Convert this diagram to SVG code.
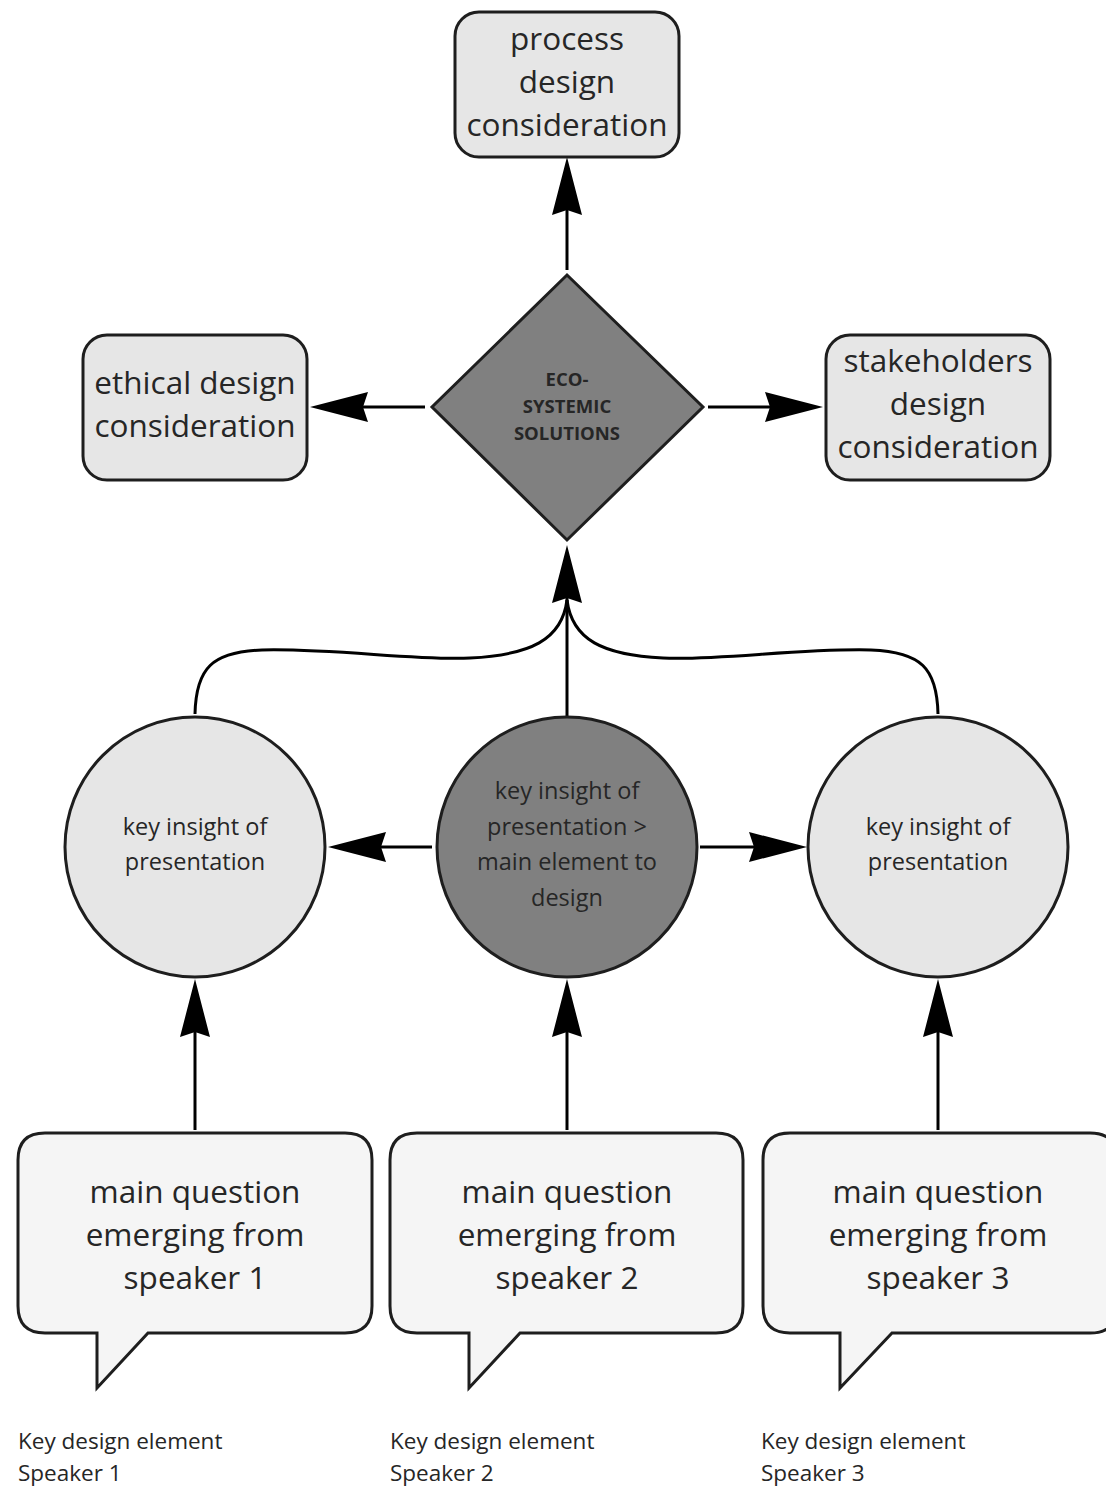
<svg xmlns="http://www.w3.org/2000/svg" width="1106" height="1488" viewBox="0 0 1106 1488">
<style>
.box{fill:#e6e6e6;stroke:#1e1e1e;stroke-width:3}
.dark{fill:#808080;stroke:#1e1e1e;stroke-width:3}
.bub{fill:#f5f5f5;stroke:#1e1e1e;stroke-width:3;stroke-linejoin:miter}
.t{font-family:"Open Sans","Noto Sans",sans-serif;fill:#262626;text-anchor:middle}
.big{font-size:31.5px}
.mid{font-size:23.5px}
.dia{font-size:18.5px;font-weight:bold}
.lab{font-family:"Open Sans","Noto Sans",sans-serif;fill:#262626;font-size:22.5px}
.c{fill:none;stroke:#000;stroke-width:3}
</style>
<defs>
<marker id="ah" markerUnits="userSpaceOnUse" markerWidth="62" markerHeight="34" refX="5" refY="16" orient="auto" overflow="visible">
<path d="M0,1 L58,16 L0,31 L5,16 Z" fill="#000"/>
</marker>
</defs>
<g id="connectors">
<line class="c" x1="567" y1="270" x2="567" y2="210" marker-end="url(#ah)"/>
<line class="c" x1="425" y1="407" x2="363" y2="407" marker-end="url(#ah)"/>
<line class="c" x1="708" y1="407" x2="770" y2="407" marker-end="url(#ah)"/>
<line class="c" x1="567" y1="716" x2="567" y2="598" marker-end="url(#ah)"/>
<path class="c" d="M195,714 C196,668 212,652 262,650 C330,648 420,661 470,658 C530,655 562,640 567,600"/>
<path class="c" d="M938,714 C937,668 921,652 871,650 C803,648 713,661 663,658 C603,655 572,640 567,600"/>
<line class="c" x1="432" y1="847" x2="381" y2="847" marker-end="url(#ah)"/>
<line class="c" x1="700" y1="847" x2="754" y2="847" marker-end="url(#ah)"/>
<line class="c" x1="195" y1="1130" x2="195" y2="1032" marker-end="url(#ah)"/>
<line class="c" x1="567" y1="1130" x2="567" y2="1032" marker-end="url(#ah)"/>
<line class="c" x1="938" y1="1130" x2="938" y2="1032" marker-end="url(#ah)"/>
</g>
<g id="process">
<rect class="box" x="455" y="12" width="224" height="145" rx="24"/>
<text class="t big" x="567" y="50">process</text>
<text class="t big" x="567" y="93">design</text>
<text class="t big" x="567" y="136">consideration</text>
</g>
<g id="ethical">
<rect class="box" x="83" y="335" width="224" height="145" rx="24"/>
<text class="t big" x="195" y="394">ethical design</text>
<text class="t big" x="195" y="437">consideration</text>
</g>
<g id="stakeholders">
<rect class="box" x="826" y="335" width="224" height="145" rx="24"/>
<text class="t big" x="938" y="372">stakeholders</text>
<text class="t big" x="938" y="415">design</text>
<text class="t big" x="938" y="458">consideration</text>
</g>
<g id="eco">
<polygon class="dark" points="567,275 703,407 567,540 432,407"/>
<text class="t dia" x="567" y="386">ECO-</text>
<text class="t dia" x="567" y="413">SYSTEMIC</text>
<text class="t dia" x="567" y="440">SOLUTIONS</text>
</g>
<g id="insight1">
<circle class="box" cx="195" cy="847" r="130"/>
<text class="t mid" x="195" y="835">key insight of</text>
<text class="t mid" x="195" y="870">presentation</text>
</g>
<g id="insight2">
<circle class="dark" cx="567" cy="847" r="130"/>
<text class="t mid" x="567" y="799">key insight of</text>
<text class="t mid" x="567" y="835">presentation &gt;</text>
<text class="t mid" x="567" y="870">main element to</text>
<text class="t mid" x="567" y="906">design</text>
</g>
<g id="insight3">
<circle class="box" cx="938" cy="847" r="130"/>
<text class="t mid" x="938" y="835">key insight of</text>
<text class="t mid" x="938" y="870">presentation</text>
</g>
<g id="speaker1">
<path class="bub" d="M45,1133 H345 Q372,1133 372,1160 V1306 Q372,1333 345,1333 H148 L97,1388 V1333 H45 Q18,1333 18,1306 V1160 Q18,1133 45,1133 Z"/>
<text class="t big" x="195" y="1203">main question</text>
<text class="t big" x="195" y="1246">emerging from</text>
<text class="t big" x="195" y="1289">speaker 1</text>
<text class="lab" x="18" y="1449">Key design element</text>
<text class="lab" x="18" y="1481">Speaker 1</text>
</g>
<g id="speaker2">
<path class="bub" d="M417,1133 H716 Q743,1133 743,1160 V1306 Q743,1333 716,1333 H520 L469,1388 V1333 H417 Q390,1333 390,1306 V1160 Q390,1133 417,1133 Z"/>
<text class="t big" x="567" y="1203">main question</text>
<text class="t big" x="567" y="1246">emerging from</text>
<text class="t big" x="567" y="1289">speaker 2</text>
<text class="lab" x="390" y="1449">Key design element</text>
<text class="lab" x="390" y="1481">Speaker 2</text>
</g>
<g id="speaker3">
<path class="bub" d="M790,1133 H1090 Q1117,1133 1117,1160 V1306 Q1117,1333 1090,1333 H892 L840,1388 V1333 H790 Q763,1333 763,1306 V1160 Q763,1133 790,1133 Z"/>
<text class="t big" x="938" y="1203">main question</text>
<text class="t big" x="938" y="1246">emerging from</text>
<text class="t big" x="938" y="1289">speaker 3</text>
<text class="lab" x="761" y="1449">Key design element</text>
<text class="lab" x="761" y="1481">Speaker 3</text>
</g>
</svg>
